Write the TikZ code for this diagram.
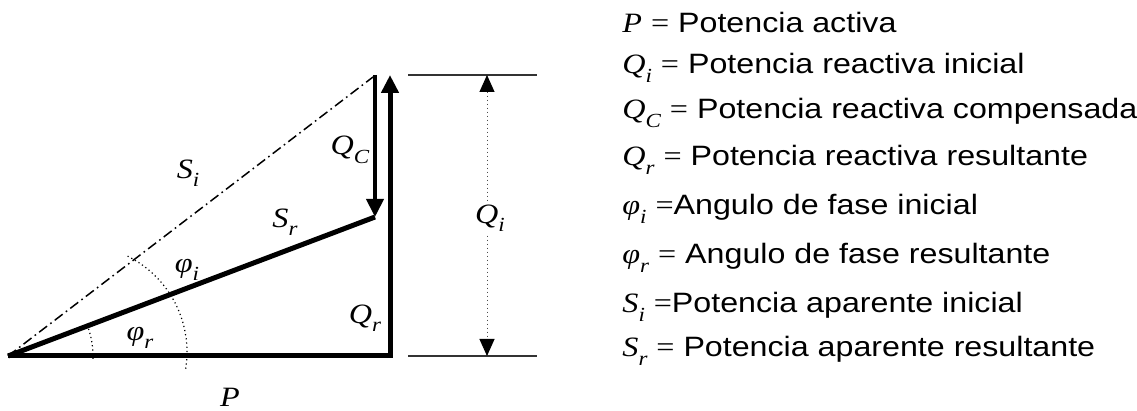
\documentclass[tikz,border=0pt]{standalone}
\usepackage{fontspec}
\setmainfont{Liberation Sans}[FakeStretch=1.15]
\newfontfamily\tms{Liberation Serif}[FakeStretch=1.15]
\usetikzlibrary{arrows.meta}
\newcommand{\mq}[2]{{\tms\itshape #1}\raisebox{-0.3em}{\fontsize{10}{10}\tms\itshape #2}}

\begin{document}
\begin{tikzpicture}[x=0.5pt,y=-0.5pt,font=\fontsize{14}{16}\selectfont,
  vec/.style={line width=2.5pt},
  tip/.style={-{Triangle[length=9pt,width=8.5pt]}},
  arcdot/.style={line width=0.6pt,dash pattern=on 0.6pt off 1.5pt},
  legend/.style={anchor=base west,inner sep=0pt}]
  \useasboundingbox (0,0) rectangle (1137,411);
  \coordinate (O) at (8,356);
  \coordinate (B) at (390,356);
  \coordinate (Q) at (390,75);
  \coordinate (C) at (375,75);
  \coordinate (R) at (375,217);
  \coordinate (I) at (373,77);
  % triangle of powers
  \draw[vec,line join=miter,tip] (O) -- (B) -- (Q);
  \draw[line width=2pt,tip] (C) -- (R);
  \draw[vec] (O) -- (R);
  \draw[line width=0.75pt,dash pattern=on 5pt off 2pt on 0.8pt off 2pt] (O) -- (I);
  % angles
  \draw[arcdot] (O) ++(2:85) arc[start angle=2,end angle=-23,radius=85];
  \draw[arcdot] (80,352) ++(9:107) arc[start angle=9,end angle=-65,radius=107];
  % dimension Qi
  \coordinate (T1) at (408,75);
  \coordinate (T2) at (537,75);
  \coordinate (B1) at (408,356);
  \coordinate (B2) at (537,356);
  \draw[line width=0.7pt,black!80] (T1) -- (T2);
  \draw[line width=0.7pt,black!80] (B1) -- (B2);
  \draw[line width=0.5pt,black!70,dash pattern=on 0.8pt off 1.2pt,
    {Triangle[length=8.5pt,width=7.5pt,color=black]}-{Triangle[length=8.5pt,width=7.5pt,color=black]}]
    (487,75) -- (487,356);
  \node[fill=white,inner sep=2pt] (qi) at (490,218) {\mq{Q}{i}};
  % labels
  \node (si) at (188,173) {\mq{S}{i}};
  \node (qc) at (350,150) {\mq{Q}{C}};
  \node (sr) at (285,222) {\mq{S}{r}};
  \node (fi) at (187,270) {\mq{φ}{i}};
  \node (fr) at (140,338) {\mq{φ}{r}};
  \node (qr) at (365,318) {\mq{Q}{r}};
  \node (p) at (230,397) {{\tms\itshape P}};
  % legend
  \node[legend] (l1) at (622,33) {{\tms\itshape P} {\tms =} Potencia activa};
  \node[legend] (l2) at (622,74) {\mq{Q}{i} {\tms =} Potencia reactiva inicial};
  \node[legend] (l3) at (622,119) {\mq{Q}{C} {\tms =} Potencia reactiva compensada};
  \node[legend] (l4) at (622,166) {\mq{Q}{r} {\tms =} Potencia reactiva resultante};
  \node[legend] (l5) at (622,215) {\mq{φ}{i} {\tms =}Angulo de fase inicial};
  \node[legend] (l6) at (622,264) {\mq{φ}{r} {\tms =} Angulo de fase resultante};
  \node[legend] (l7) at (622,313) {\mq{S}{i} {\tms =}Potencia aparente inicial};
  \node[legend] (l8) at (622,357) {\mq{S}{r} {\tms =} Potencia aparente resultante};
\end{tikzpicture}
\end{document}
